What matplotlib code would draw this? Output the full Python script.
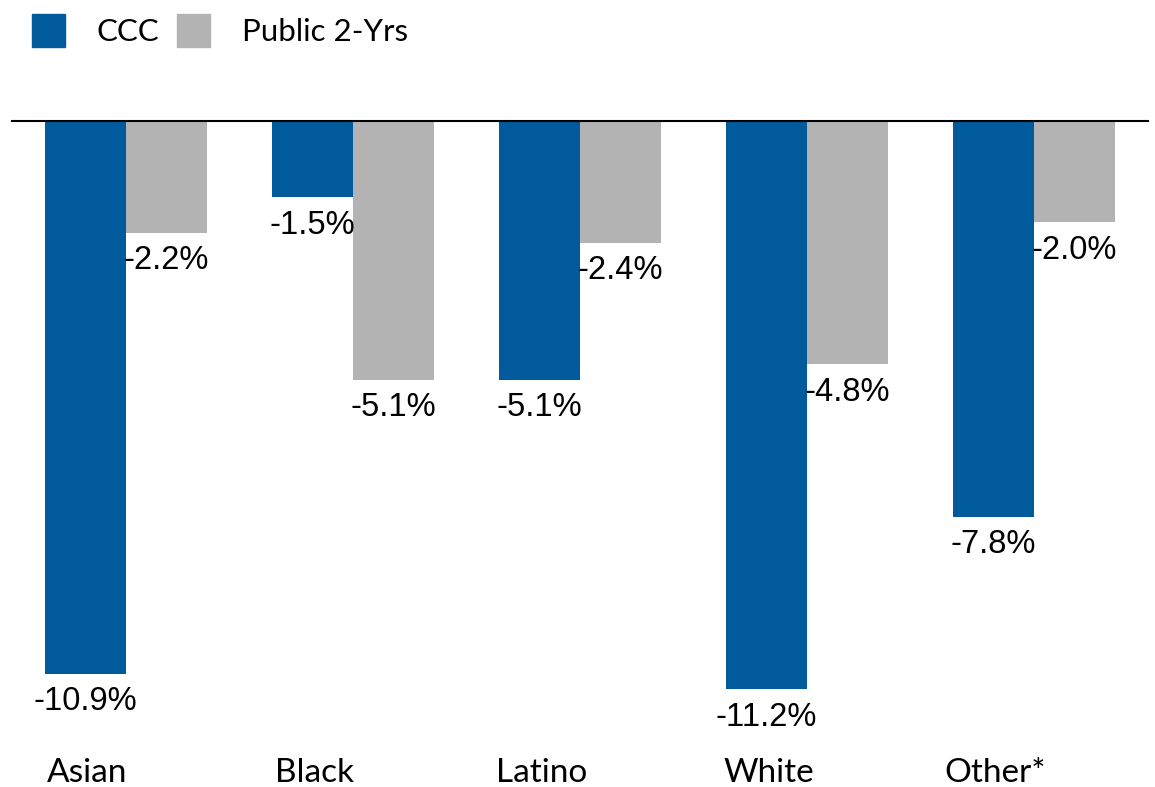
import numpy as np
import matplotlib.pyplot as plt
from matplotlib.patches import Patch

# Enrollment change by race/ethnicity
categories = ['Asian', 'Black', 'Latino', 'White', 'Other*']
ccc = [-10.9, -1.5, -5.1, -11.2, -7.8]
public_2yr = [-2.2, -5.1, -2.4, -4.8, -2.0]

BLUE = '#005A9C'
GRAY = '#B3B3B3'
LABEL_FONT = ['Liberation Sans', 'DejaVu Sans']
CAT_FONT = ['Lato', 'DejaVu Sans']


def plot_enrollment():
    fig = plt.figure(figsize=(11.55, 7.87), dpi=100)
    # axes: zero line at the top edge
    ax = fig.add_axes([12 / 1155, 1 - 755 / 787, 1136 / 1155, (755 - 121) / 787])

    x = np.arange(len(categories))
    w = 0.357
    b1 = ax.bar(x - w / 2, ccc, width=w, color=BLUE)
    b2 = ax.bar(x + w / 2, public_2yr, width=w, color=GRAY)

    for bars, vals in ((b1, ccc), (b2, public_2yr)):
        for rect, v in zip(bars, vals):
            ax.annotate(f'{v:.1f}%', (rect.get_x() + rect.get_width() / 2, v),
                        xytext=(0, -9), textcoords='offset points',
                        ha='center', va='top', fontsize=23.5, family=LABEL_FONT)

    ax.set_xlim(-0.502, len(categories) - 0.498)
    ax.set_ylim(-12.5, 0)

    for s in ['left', 'right', 'bottom']:
        ax.spines[s].set_visible(False)
    ax.spines['top'].set_linewidth(1.5)
    ax.spines['top'].set_color('black')
    ax.set_yticks([])
    ax.set_xticks(x - 0.17)
    ax.set_xticklabels(categories, fontsize=24, family=CAT_FONT)
    ax.tick_params(axis='x', length=0, pad=2)

    handles = [Patch(color=BLUE, label='CCC'), Patch(color=GRAY, label='Public 2-Yrs')]
    fig.legend(handles=handles, loc='upper left', bbox_to_anchor=(19 / 1155, 1 - 1 / 787),
               ncol=2, frameon=False, prop={'family': CAT_FONT, 'size': 22.5},
               handlelength=1.056, handleheight=1.28, handletextpad=1.02,
               columnspacing=0.58, borderaxespad=0)

    fig.savefig('out.png', dpi=100)


if __name__ == '__main__':
    plot_enrollment()
